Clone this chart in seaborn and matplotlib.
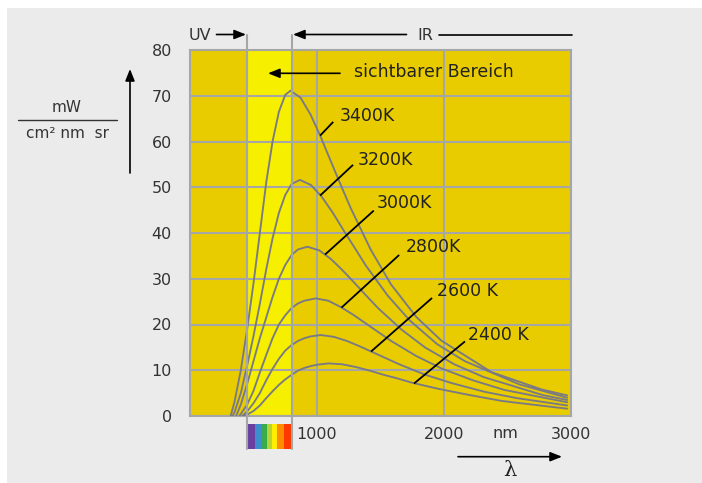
import numpy as np
import pandas as pd
import matplotlib
matplotlib.use("Agg")
import matplotlib.pyplot as plt
import matplotlib.transforms as mtransforms
from matplotlib.lines import Line2D
from matplotlib.patches import Rectangle, FancyArrowPatch
import seaborn as sns

# ---------------- data ----------------
temps = ["3400K", "3200K", "3000K", "2800K", "2600K", "2400K"]

wl_3400 = [320, 350, 400, 450, 500, 550, 600, 650, 700, 750, 791, 870, 949, 1028, 1107,
           1187, 1266, 1424, 1582, 1780, 1978, 2373, 2769, 2970]
val_3400 = [0, 3, 10, 19, 29, 40, 51, 60, 66.5, 70.2, 71.1, 69.6, 65.9, 61.1, 55.8,
            50.5, 45.4, 36.3, 28.8, 21.7, 16.5, 9.6, 5.8, 4.5]

wl_3200 = [335, 350, 400, 450, 500, 550, 600, 650, 700, 750, 800, 865, 952, 1038, 1125,
           1211, 1298, 1384, 1557, 1730, 1946, 2163, 2595, 2970]
val_3200 = [0, 0.8, 5, 11, 17.5, 24.5, 32, 38.8, 44.4, 48.3, 50.7, 51.6, 50.5, 47.9,
            44.4, 40.5, 36.7, 32.9, 26.3, 20.9, 15.7, 12.0, 6.9, 4.0]

wl_3000 = [363, 400, 450, 500, 550, 600, 650, 700, 750, 800, 850, 925, 1018, 1110, 1203,
           1295, 1388, 1480, 1665, 1850, 2081, 2313, 2775, 2970]
val_3000 = [0, 2.5, 7, 12, 17, 21.5, 26, 30, 33, 35.2, 36.4, 37.0, 36.2, 34.3, 31.8,
            29.1, 26.3, 23.6, 18.9, 15.0, 11.3, 8.5, 4.6, 3.5]

wl_2800 = [389, 450, 500, 550, 600, 650, 700, 750, 800, 850, 900, 990, 1089, 1188, 1287,
           1386, 1485, 1584, 1782, 1980, 2228, 2475, 2970]
val_2800 = [0, 2.5, 5.5, 9.5, 13.3, 17, 20, 22, 23.6, 24.6, 25.2, 25.7, 25.2, 23.8,
            22.1, 20.2, 18.3, 16.4, 13.1, 10.4, 7.8, 5.7, 3.0]

wl_2600 = [412, 450, 500, 550, 600, 650, 700, 750, 800, 850, 900, 950, 1030, 1133, 1236,
           1339, 1442, 1545, 1648, 1854, 2060, 2318, 2575, 2970]
val_2600 = [0, 1.0, 2.8, 5.0, 7.8, 10.3, 12.5, 14.3, 15.5, 16.4, 17.0, 17.4, 17.7, 17.3,
            16.4, 15.2, 13.9, 12.6, 11.3, 9.0, 7.2, 5.3, 3.9, 2.3]

wl_2400 = [428, 450, 500, 550, 600, 650, 700, 750, 800, 850, 900, 950, 1000, 1090, 1199,
           1308, 1417, 1526, 1635, 1744, 1962, 2180, 2453, 2725, 2970]
val_2400 = [0, 0.3, 1.1, 2.3, 3.9, 5.4, 6.8, 8.0, 9.0, 9.9, 10.5, 10.9, 11.2, 11.5, 11.3,
            10.7, 9.9, 9.0, 8.2, 7.3, 5.9, 4.7, 3.3, 2.4, 1.6]

y_ticks = [0, 10, 20, 30, 40, 50, 60, 70, 80]
x_ticks = [1000, 2000, 3000]
x_ticklabels = ["1000", "2000", "3000"]
region_lines = [445, 800]          # UV / visible / IR boundaries (nm)

spec_edges = [447, 510, 556, 605, 645, 685, 740, 800]
spec_colors = ["#6b3fa0", "#3c8fcf", "#3aab4a", "#b8d432", "#ffec00", "#ff8c00", "#ff3a00"]

curve_wl = [wl_3400, wl_3200, wl_3000, wl_2800, wl_2600, wl_2400]
curve_val = [val_3400, val_3200, val_3000, val_2800, val_2600, val_2400]

rows = []
for t, ws, vs in zip(temps, curve_wl, curve_val):
    for w, v in zip(ws, vs):
        rows.append({"wl": w, "val": v, "T": t})
df = pd.DataFrame(rows)

# label text positions and leader lines (data coords)
label_text = ["3400K", "3200K", "3000K", "2800K", "2600 K", "2400 K"]
label_pos = [(1180, 65.6), (1323, 56.0), (1473, 46.5), (1696, 37.0), (1945, 27.4), (2192, 17.7)]
leader_from = [(1128, 64.3), (1284, 54.9), (1447, 44.9), (1647, 35.2), (1906, 25.8), (2165, 16.3)]
leader_to = [(1025, 61.3), (1025, 48.2), (1064, 35.3), (1193, 23.7), (1426, 14.1), (1764, 7.1)]

# ---------------- style ----------------
sns.set_style("white")
plt.rcParams["font.family"] = ["DejaVu Sans"]

W, H = 702, 483
fig = plt.figure(figsize=(W / 100, H / 100), dpi=100, facecolor="#ebebeb")

def fx(px):
    return px / W

def fy(py):
    return 1 - py / H

# white margin strips (top/left) as in reference
fig.patches.append(Rectangle((0, fy(8)), 1, 8 / H, transform=fig.transFigure,
                             facecolor="white", edgecolor="none", zorder=0))
fig.patches.append(Rectangle((0, 0), 7 / W, 1, transform=fig.transFigure,
                             facecolor="white", edgecolor="none", zorder=0))

ax_l, ax_r, ax_t, ax_b = 190, 571, 50, 416
ax = fig.add_axes([fx(ax_l), fy(ax_b), (ax_r - ax_l) / W, (ax_b - ax_t) / H])
ax.set_facecolor("#e8cc00")

gridc = "#a6a6a6"
ax.axvspan(region_lines[0], region_lines[1], color="#f7ef00", zorder=0.1, lw=0)

sns.lineplot(data=df, x="wl", y="val", hue="T", hue_order=temps,
             palette={t: "#7a7a84" for t in temps}, legend=False,
             estimator=None, sort=False, ax=ax, linewidth=1.35, zorder=3)

ax.set_xlim(0, 3000)
ax.set_ylim(0, 80)
ax.set_xticks(x_ticks)
ax.set_xticklabels(x_ticklabels)
ax.set_xticks(region_lines, minor=True)
ax.set_yticks(y_ticks)
ax.set_axisbelow(True)
ax.grid(True, which="both", color=gridc, lw=1.5)
ax.tick_params(axis="both", which="both", length=0)
ax.tick_params(axis="y", pad=13, labelsize=11.5, labelcolor="#333333")
ax.tick_params(axis="x", pad=8, labelsize=11.5, labelcolor="#333333")
ax.set_xlabel("")
ax.set_ylabel("")
for s in ax.spines.values():
    s.set_color(gridc)
    s.set_linewidth(1.5)

blend = mtransforms.blended_transform_factory(ax.transData, ax.transAxes)

# spectrum strip below the axis
spec_left = spec_edges[:-1]
spec_w = list(np.diff(spec_edges))
strip_top = (ax_b - 424) / (ax_b - ax_t)
strip_bot = (ax_b - 449) / (ax_b - ax_t)
ax.bar(spec_left, [strip_top - strip_bot] * len(spec_left), width=spec_w,
       bottom=strip_bot, align="edge", color=spec_colors, linewidth=0,
       transform=blend, clip_on=False, zorder=4)
ax.set_xlim(0, 3000)
ax.set_ylim(0, 80)

# boundary lines extended above and below the plot
top_ext = 1 + (ax_t - 34.5) / (ax_b - ax_t)
for xl in region_lines:
    ax.plot([xl, xl], [strip_bot, top_ext], color=gridc, lw=1.5,
            transform=blend, clip_on=False, zorder=5)

# "nm" axis unit
ax.text(2480, (ax_b - 433) / (ax_b - ax_t), "nm", transform=blend,
        ha="center", va="center", fontsize=11.5, color="#333333")

# temperature labels with leader lines
for txt, (tx, ty), (x0, y0), (x1, y1) in zip(label_text, label_pos, leader_from, leader_to):
    ax.text(tx, ty, txt, ha="left", va="center", fontsize=12.5, color="#222222", zorder=6)
    ax.plot([x0, x1], [y0, y1], color="black", lw=1.3, zorder=6, solid_capstyle="butt")

arrow_kw = dict(arrowstyle="-|>,head_length=0.7,head_width=0.28", color="black",
                lw=1.2, shrinkA=0, shrinkB=0, mutation_scale=10)

def fig_arrow(p0, p1):
    fig.add_artist(FancyArrowPatch(
        (fx(p0[0]), fy(p0[1])), (fx(p1[0]), fy(p1[1])),
        transform=fig.transFigure, **arrow_kw))

# "sichtbarer Bereich" with arrow
ax.text(1290, 75.2, "sichtbarer Bereich", ha="left", va="center",
        fontsize=12.5, color="#222222", zorder=6)
fig_arrow((340, 73.3), (268, 73.3))

# UV / IR bracket on top
fig.text(fx(200), fy(35), "UV", ha="center", va="center", fontsize=11.5, color="#333333")
fig_arrow((216.5, 34.5), (246, 34.5))
fig.text(fx(425), fy(35), "IR", ha="center", va="center", fontsize=11.5, color="#333333")
fig_arrow((406.5, 34.5), (293, 34.5))
fig.add_artist(Line2D([fx(439), fx(571.5)], [fy(34.5), fy(34.5)], color="black", lw=1.2,
                      transform=fig.transFigure))

# y-axis unit (fraction) and up arrow
fig.text(fx(67), fy(108), "mW", ha="center", va="center", fontsize=11, color="#333333")
fig.add_artist(Line2D([fx(18), fx(117)], [fy(119.5), fy(119.5)], color="#333333", lw=1.0,
                      transform=fig.transFigure))
fig.text(fx(67), fy(134), "cm² nm  sr", ha="center", va="center", fontsize=11, color="#333333")
fig_arrow((130, 173), (130, 69))

# lambda arrow at the bottom
fig_arrow((458, 456.7), (562, 456.7))
fig.text(fx(510), fy(471), "λ", ha="center", va="center", fontsize=15,
         family=["DejaVu Serif"], color="#222222")

fig.savefig("out.png", dpi=100, facecolor=fig.get_facecolor())
